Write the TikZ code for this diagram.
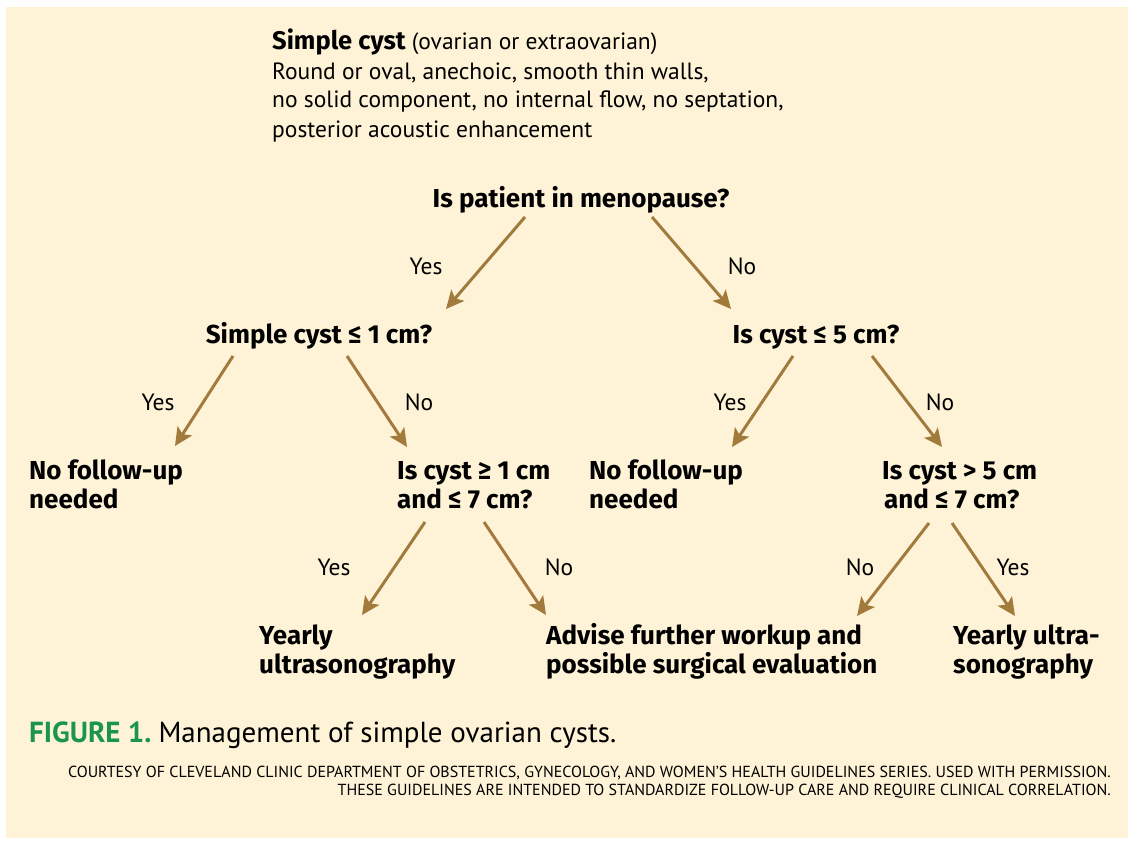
\documentclass[tikz,border=0pt]{standalone}
\usepackage{fontspec}
\setmainfont{PT Sans}
\newfontfamily\qfont{Fira Sans}
\usetikzlibrary{arrows.meta}
\definecolor{bgcream}{HTML}{FEF2D7}
\definecolor{arrbrown}{HTML}{A27B3C}
\definecolor{figgreen}{HTML}{1A9550}
\newcommand{\lns}[1]{\begin{tabular}[t]{@{}l@{}}#1\end{tabular}}
\tikzset{
  body/.style={inner sep=0pt, font=\fontsize{23.5}{29}\selectfont},
  qtext/.style={inner sep=0pt, font=\qfont\fontsize{26}{29}\selectfont\bfseries},
  lbl/.style={inner sep=0pt, anchor=base, font=\fontsize{23.5}{29}\selectfont},
  flow/.style={draw=arrbrown, line width=3pt, -{Stealth[length=18pt,width=17pt,inset=4pt]}},
}
\begin{document}
\begin{tikzpicture}[x=1pt,y=-1pt]
\useasboundingbox (0,0) rectangle (1134,843);
\fill[bgcream] (6,7) rectangle (1128,838);
% header
\node[body, anchor=base west] (hdr) at (272,50)
 {\lns{{\qfont\fontsize{25.5}{29}\selectfont\bfseries Simple cyst} (ovarian or extraovarian)\\Round or oval, anechoic, smooth thin walls,\\no solid component, no internal flow, no septation,\\posterior acoustic enhancement}};
% questions
\node[qtext, anchor=base] (meno) at (581,207) {Is patient in menopause?};
\node[qtext, anchor=base] (q1) at (319,343) {Simple cyst ≤ 1 cm?};
\node[qtext, anchor=base] (q5) at (816,343) {Is cyst ≤ 5 cm?};
\node[qtext, anchor=base west] (nf1) at (29,479) {\lns{No follow-up\\needed}};
\node[qtext, anchor=base west] (q17) at (397,479) {\lns{Is cyst ≥ 1 cm\\and ≤ 7 cm?}};
\node[qtext, anchor=base west] (nf2) at (589,479) {\lns{No follow-up\\needed}};
\node[qtext, anchor=base west] (q57) at (882,479) {\lns{Is cyst > 5 cm\\\hspace*{2pt}and ≤ 7 cm?}};
\node[qtext, anchor=base west] (yu1) at (259,644) {\lns{Yearly\\ultrasonography}};
\node[qtext, anchor=base west] (adv) at (546,644) {\lns{Advise further workup and\\possible surgical evaluation}};
\node[qtext, anchor=base west] (yu2) at (953,644) {\lns{Yearly ultra-\\sonography}};
% labels
\node[lbl] (l1) at (426,274) {Yes};
\node[lbl] (l2) at (742,274) {No};
\node[lbl] (l3) at (158,410) {Yes};
\node[lbl] (l4) at (419,410) {No};
\node[lbl] (l5) at (730,410) {Yes};
\node[lbl] (l6) at (940,410) {No};
\node[lbl] (l7) at (334,575) {Yes};
\node[lbl] (l8) at (559,575) {No};
\node[lbl] (l9) at (860,575) {No};
\node[lbl] (l10) at (1013,575) {Yes};
% arrow coordinates
\coordinate (a1s) at (525,217); \coordinate (a1e) at (446,309);
\coordinate (a2s) at (652,217); \coordinate (a2e) at (731,309);
\coordinate (a3s) at (233,356); \coordinate (a3e) at (175,446);
\coordinate (a4s) at (347,356); \coordinate (a4e) at (407,447);
\coordinate (a5s) at (793,356); \coordinate (a5e) at (732,447);
\coordinate (a6s) at (872,356); \coordinate (a6e) at (942,447);
\coordinate (a7s) at (425,522); \coordinate (a7e) at (362,615);
\coordinate (a8s) at (484,522); \coordinate (a8e) at (546,615);
\coordinate (a9s) at (929,523); \coordinate (a9e) at (857,616);
\coordinate (a10s) at (952,523); \coordinate (a10e) at (1015,616);
\foreach \i in {1,...,10} \draw[flow] (a\i s) -- (a\i e);
% caption
\node[inner sep=0pt, anchor=base west, font=\fontsize{29}{34}\selectfont] (cap) at (29,742)
 {{\color{figgreen}\bfseries FIGURE 1.}\hspace*{7pt}Management of simple ovarian cysts.};
\node[inner sep=0pt, anchor=base east, font=\fontsize{16}{18}\selectfont] (court) at (1111,777)
 {\begin{tabular}[t]{@{}r@{}}COURTESY OF CLEVELAND CLINIC DEPARTMENT OF OBSTETRICS, GYNECOLOGY, AND WOMEN'S HEALTH GUIDELINES SERIES. USED WITH PERMISSION.\\THESE GUIDELINES ARE INTENDED TO STANDARDIZE FOLLOW-UP CARE AND REQUIRE CLINICAL CORRELATION.\end{tabular}};
\end{tikzpicture}
\end{document}
